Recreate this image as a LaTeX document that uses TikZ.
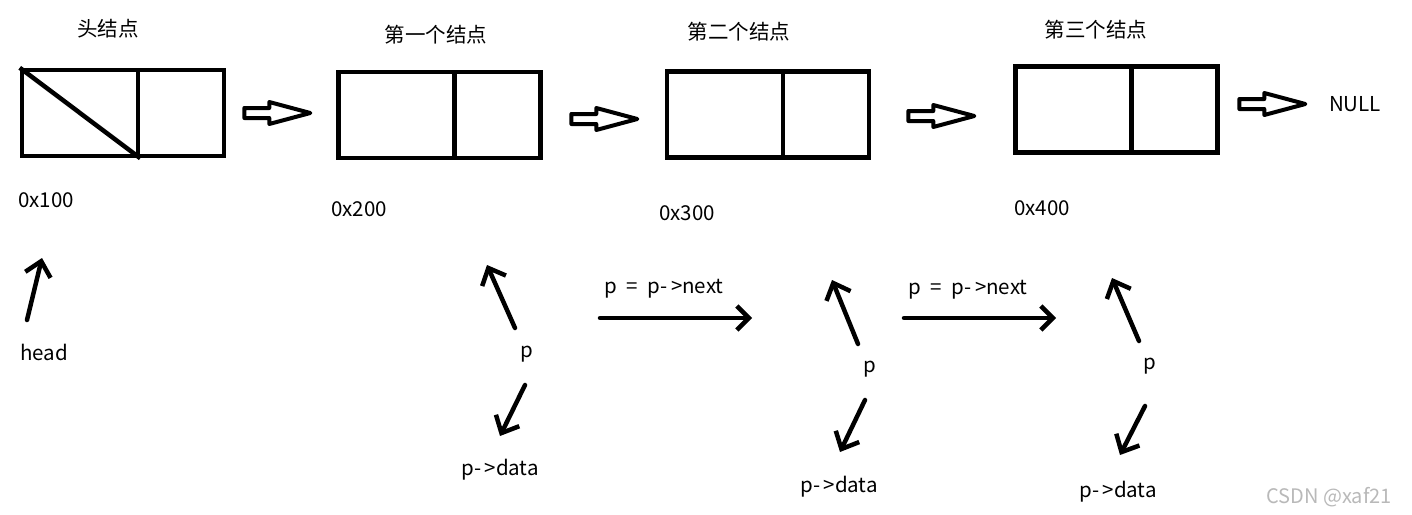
\documentclass[tikz,border=0pt]{standalone}
\usepackage{fontspec}
\setmainfont{Noto Sans CJK SC}
\usetikzlibrary{matrix,shapes.arrows,arrows.meta}

\tikzset{
  datapart/.style={draw, line width=4.5pt, minimum width=116pt, minimum height=86pt, inner sep=0pt},
  nextpart/.style={datapart, minimum width=86pt},
  hollowarr/.style={draw, line width=4pt, line join=round, single arrow, single arrow head extend=6pt,
    single arrow tip angle=30, inner sep=3pt, minimum height=66pt},
  ptr/.style={line width=4.5pt, line cap=round, -{Straight Barb[length=14pt,width=26pt]}},
  lbl/.style={font=\fontsize{20.5}{24}\selectfont, inner sep=0pt}
}

\begin{document}
\begin{tikzpicture}[x=1pt, y=-1pt]
    \useasboundingbox (0,0) rectangle (1412,514);
    \fill[white] (0,0) rectangle (1412,514);

    % the four list nodes: data part | next part
    \foreach \i/\x/\y in {1/123/113, 2/439.5/115, 3/768/114.5, 4/1116.5/109.5}
      \matrix (n\i) [matrix of nodes, nodes in empty cells, ampersand replacement=\&, inner sep=0pt,
                     column sep=-4.5pt, column 1/.style={nodes=datapart}, column 2/.style={nodes=nextpart}]
        at (\x,\y)
        {
          \& \\
        };
    \draw[line width=4.5pt] (n1-1-1.north west) -- (n1-1-1.south east);

    % links
    \node[hollowarr] (a1) at (268,113) {};
    \node[hollowarr] (a2) at (595,119) {};
    \node[hollowarr] (a3) at (932,116) {};
    \node[hollowarr] (a4) at (1263,104) {};

    \node[lbl] (t1) at (108,29) {头结点};
    \node[lbl] (t2) at (436,35) {第一个结点};
    \node[lbl] (t3) at (739,32) {第二个结点};
    \node[lbl] (t4) at (1096,30) {第三个结点};
    \node[lbl] (null) at (1355,104) {NULL};

    \node[lbl] (ad1) at (46,200) {0x100};
    \node[lbl] (ad2) at (359,209) {0x200};
    \node[lbl] (ad3) at (687,213) {0x300};
    \node[lbl] (ad4) at (1042,208) {0x400};

    % pointers
    \node[lbl] (head) at (44,352) {head};
    \coordinate (h0) at (27,320);
    \coordinate (h1) at (42,258);
    \draw[ptr] (h0) -- (h1);

    \node[lbl] (p1) at (527,354) {p};
    \node[lbl] (d1) at (500,470) {p-\,>data};
    \coordinate (p1a) at (515,328);
    \coordinate (p1b) at (487,265);
    \coordinate (p1c) at (525,385);
    \coordinate (p1d) at (500,436);
    \draw[ptr] (p1a) -- (p1b);
    \draw[ptr] (p1c) -- (p1d);

    \node[lbl] (s1) at (664,289) {p\hspace{5pt} = \hspace{5pt}p-\,>next};
    \coordinate (s1a) at (600,318);
    \coordinate (s1b) at (752,318);
    \draw[ptr, -{Straight Barb[length=12pt,width=24pt]}] (s1a) -- (s1b);

    \node[lbl] (p2) at (870,369) {p};
    \node[lbl] (d2) at (839,487) {p-\,>data};
    \coordinate (p2a) at (858,344);
    \coordinate (p2b) at (832,280);
    \coordinate (p2c) at (865,400);
    \coordinate (p2d) at (840,452);
    \draw[ptr] (p2a) -- (p2b);
    \draw[ptr] (p2c) -- (p2d);

    \node[lbl] (s2) at (968,290) {p\hspace{5pt} = \hspace{5pt}p-\,>next};
    \coordinate (s2a) at (904,318);
    \coordinate (s2b) at (1056,318);
    \draw[ptr, -{Straight Barb[length=12pt,width=24pt]}] (s2a) -- (s2b);

    \node[lbl] (p3) at (1150,366) {p};
    \node[lbl] (d3) at (1118,492) {p-\,>data};
    \coordinate (p3a) at (1139,341);
    \coordinate (p3b) at (1112,278);
    \coordinate (p3c) at (1145,406);
    \coordinate (p3d) at (1120,455);
    \draw[ptr] (p3a) -- (p3b);
    \draw[ptr] (p3c) -- (p3d);

    \node[font=\fontsize{20}{22}\selectfont, text=gray!55, inner sep=0pt] (mark) at (1329,497) {CSDN @xaf21};
\end{tikzpicture}
\end{document}
